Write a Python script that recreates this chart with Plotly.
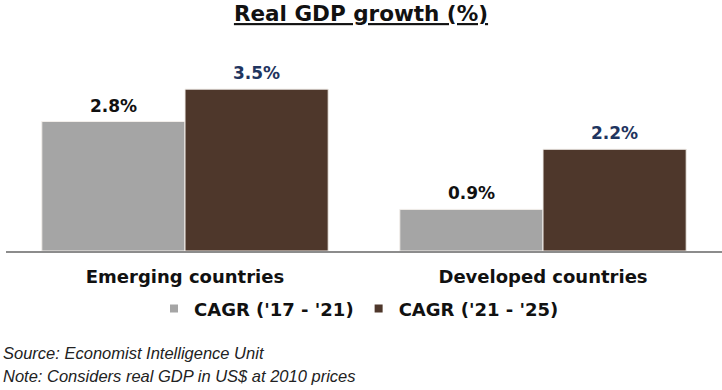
import plotly.graph_objects as go

categories = ["Emerging countries", "Developed countries"]
series_names = ["CAGR ('17 - '21)", "CAGR ('21 - '25)"]
cagr_17_21 = [2.8, 0.9]
cagr_21_25 = [3.5, 2.2]
series_values = [cagr_17_21, cagr_21_25]
colors = ["#A5A5A5", "#4E372B"]
label_colors = ["#111111", "#1F3560"]

BOLD_FONT = "DejaVu Sans"
ITALIC_FONT = "Liberation Sans, Arial, sans-serif"

fig = go.Figure()
for name, vals, col in zip(series_names, series_values, colors):
    fig.add_trace(go.Bar(
        x=categories, y=vals, name=name, showlegend=False,
        marker=dict(color=col, line=dict(width=1, color="#F2EEEA")),
        hoverinfo="skip",
    ))
# legend-only entries with small square swatches
for name, col in zip(series_names, colors):
    fig.add_trace(go.Scatter(
        x=[None], y=[None], mode="markers", name=name,
        marker=dict(symbol="square", size=8, color=col),
    ))

fig.update_layout(
    width=722, height=390,
    margin=dict(l=6, r=0, t=66, b=139),
    paper_bgcolor="white", plot_bgcolor="white",
    barmode="group", bargap=0.2, bargroupgap=0,
    font=dict(family=BOLD_FONT, color="#111111"),
    title=dict(text="<u>Real GDP growth (%)</u>", x=0.5, xanchor="center",
               y=1 - 6 / 390, yanchor="top",
               font=dict(size=21.5, family=BOLD_FONT, weight="bold", color="#111111")),
    showlegend=True,
    legend=dict(orientation="h", x=0.5 - 5 / 716, xanchor="center", y=-0.313, yanchor="middle",
                font=dict(size=18, family=BOLD_FONT, weight="bold", color="#111111"),
                itemwidth=30, traceorder="normal"),
    xaxis=dict(showline=True, linecolor="#8C8C8C", linewidth=1.5, ticks="",
               ticklabelstandoff=9,
               tickfont=dict(size=18, family=BOLD_FONT, weight="bold", color="#111111")),
    yaxis=dict(range=[0, 4], visible=False, showgrid=False),
)

# value labels above each bar (grouped bars sit half a bar width left/right of the category)
bar_half_offset = [-71.5, 71.5]
for vals, lcol, dx in zip(series_values, label_colors, bar_half_offset):
    for cat, v in zip(categories, vals):
        fig.add_annotation(x=cat, y=v, xref="x", yref="y", xshift=dx, yshift=4,
                           text=f"{v:.1f}%", showarrow=False, yanchor="bottom",
                           font=dict(size=17, family=BOLD_FONT, weight="bold", color=lcol))

fig.add_annotation(text="Source: Economist Intelligence Unit", xref="paper", yref="paper",
                   x=0, xshift=-5, y=0, yshift=-102, xanchor="left", yanchor="middle", showarrow=False,
                   font=dict(size=16.5, family=ITALIC_FONT, style="italic", color="#222222"))
fig.add_annotation(text="Note: Considers real GDP in US$ at 2010 prices", xref="paper", yref="paper",
                   x=0, xshift=-5, y=0, yshift=-125, xanchor="left", yanchor="middle", showarrow=False,
                   font=dict(size=16.5, family=ITALIC_FONT, style="italic", color="#222222"))

fig.write_html("out.html", config={"displayModeBar": False},
               post_script="document.body.style.margin='0px';")
